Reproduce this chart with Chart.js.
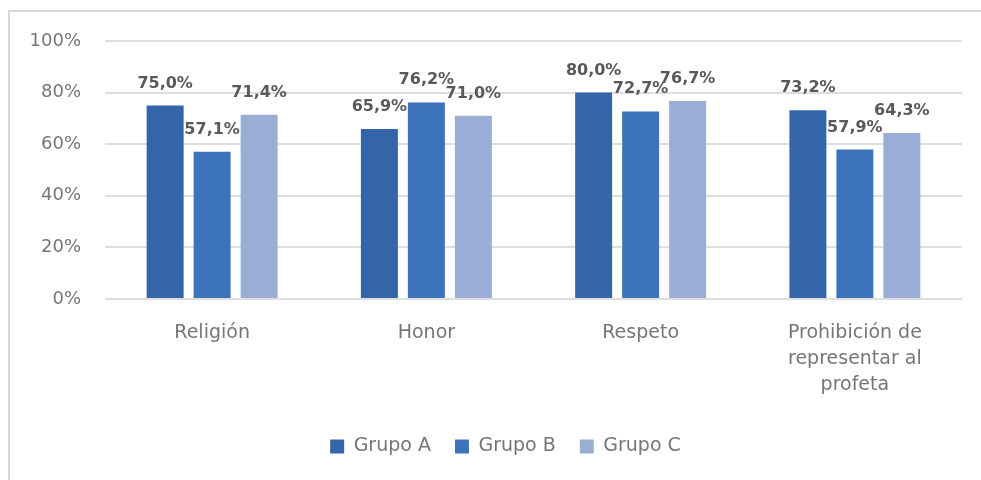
<!DOCTYPE html>
<html>
<head>
<meta charset="utf-8">
<script src="https://cdn.jsdelivr.net/npm/chart.js@4/dist/chart.umd.min.js"></script>
<style>
html,body{margin:0;padding:0;background:#fff;}
#wrap{width:981px;height:480px;position:relative;}
</style>
</head>
<body>
<div id="wrap"><canvas id="c" width="981" height="480"></canvas></div>
<script>
const categories = [["Religión"], ["Honor"], ["Respeto"], ["Prohibición de", "representar al", "profeta"]];
const seriesNames = ["Grupo A", "Grupo B", "Grupo C"];
const grupoA = [75.0, 65.9, 80.0, 73.2];
const grupoB = [57.1, 76.2, 72.7, 57.9];
const grupoC = [71.4, 71.0, 76.7, 64.3];
const yTicks = [0, 20, 40, 60, 80, 100];
const colors = ["#3465A8", "#3D73BA", "#9AAED5"];

const TEXT = "#767676";
const LABEL = "#595959";
const FONT = "'DejaVu Sans', sans-serif";

const frame = {
  id: "frame",
  beforeDraw(chart) {
    const ctx = chart.ctx;
    ctx.save();
    ctx.fillStyle = "#fff";
    ctx.fillRect(0, 0, chart.width, chart.height);
    ctx.fillStyle = "#d9d9d9";
    ctx.fillRect(8, 10, 2, chart.height);
    ctx.fillRect(8, 10, chart.width, 2);
    ctx.restore();
  }
};

const legendShift = {
  id: "legendShift",
  afterLayout(chart) {
    if (chart.legend) { chart.legend.left += 40; }
  }
};

const valueLabels = {
  id: "valueLabels",
  afterDatasetsDraw(chart) {
    const ctx = chart.ctx;
    ctx.save();
    ctx.font = "bold 16px " + FONT;
    ctx.fillStyle = LABEL;
    ctx.textAlign = "center";
    ctx.textBaseline = "alphabetic";
    chart.data.datasets.forEach((ds, i) => {
      const meta = chart.getDatasetMeta(i);
      meta.data.forEach((el, j) => {
        const v = ds.data[j];
        const txt = v.toFixed(1).replace(".", ",") + "%";
        ctx.fillText(txt, el.x, el.y - 18);
      });
    });
    ctx.restore();
  }
};

new Chart(document.getElementById("c"), {
  type: "bar",
  data: {
    labels: categories,
    datasets: [
      { label: seriesNames[0], data: grupoA, backgroundColor: colors[0] },
      { label: seriesNames[1], data: grupoB, backgroundColor: colors[1] },
      { label: seriesNames[2], data: grupoC, backgroundColor: colors[2] }
    ]
  },
  options: {
    responsive: false,
    animation: false,
    devicePixelRatio: 1,
    layout: { padding: { top: 41, left: 9, right: 19, bottom: 14 } },
    datasets: { bar: { categoryPercentage: 0.658, barPercentage: 0.787 } },
    plugins: {
      legend: {
        position: "bottom",
        labels: {
          color: TEXT,
          font: { family: FONT, size: 19 },
          boxWidth: 14,
          boxHeight: 14,
          padding: 24
        }
      },
      tooltip: { enabled: false }
    },
    scales: {
      x: {
        grid: { display: false },
        border: { display: false },
        ticks: {
          color: TEXT,
          font: { family: FONT, size: 19, lineHeight: 1.37 },
          padding: 13,
          maxRotation: 0,
          autoSkip: false
        },
        afterFit(s) { s.height = 114; }
      },
      y: {
        min: 0,
        max: 100,
        afterBuildTicks(s) { s.ticks = yTicks.map(v => ({ value: v })); },
        grid: { color: "#dedede", lineWidth: 2, drawTicks: false },
        border: { display: false },
        ticks: {
          color: TEXT,
          font: { family: FONT, size: 18 },
          padding: 24,
          callback: v => v + "%"
        },
        afterFit(s) { s.width = 96; }
      }
    }
  },
  plugins: [frame, legendShift, valueLabels]
});
</script>
</body>
</html>
